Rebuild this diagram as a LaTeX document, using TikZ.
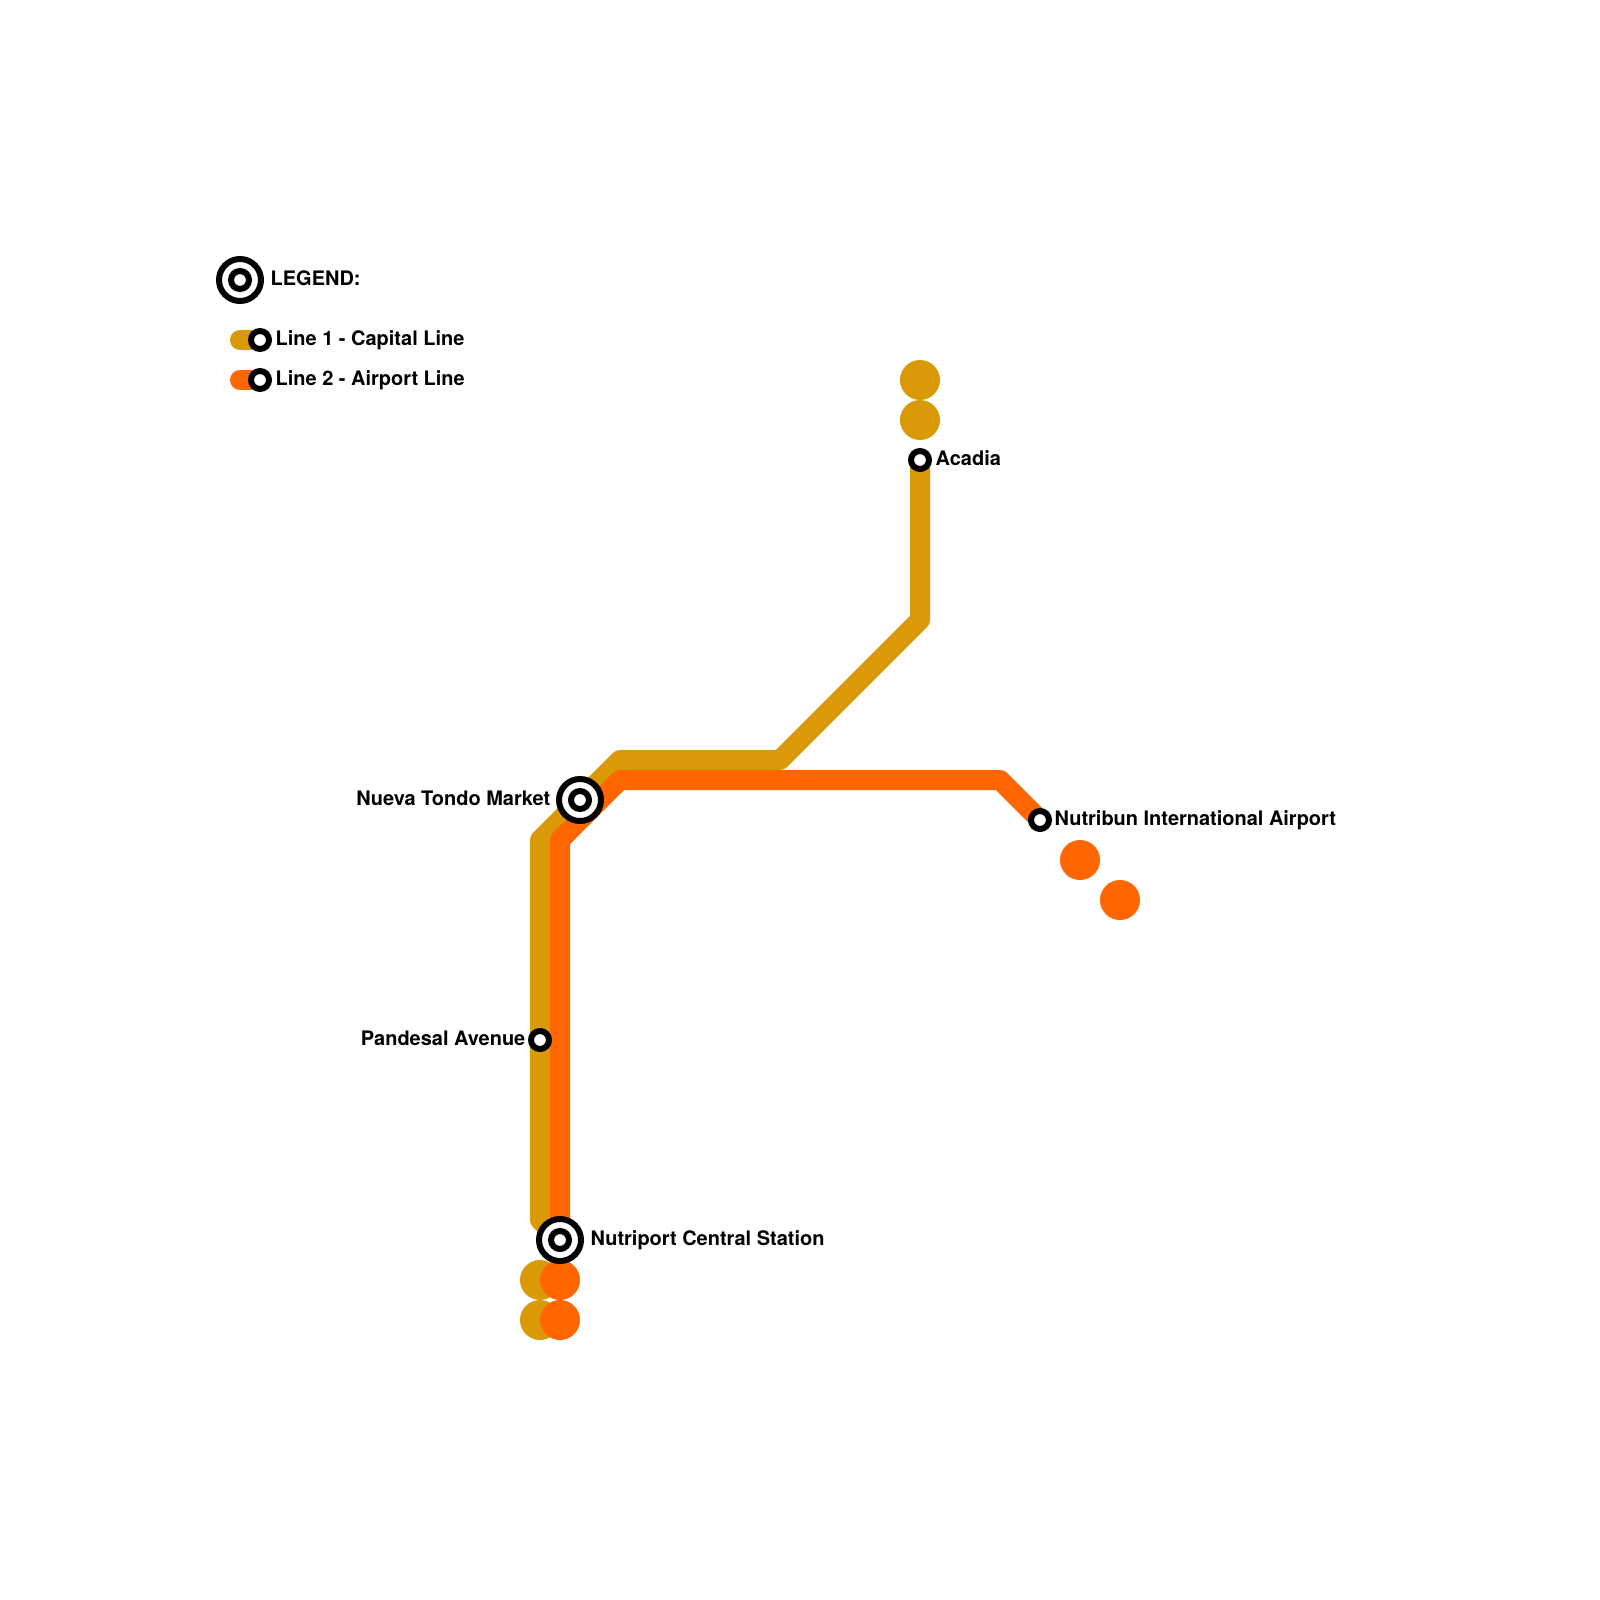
\documentclass[tikz,border=0pt]{standalone}
\usepackage{fontspec}
\setmainfont{TeX Gyre Heros}
\usetikzlibrary{positioning,backgrounds}
\definecolor{capital}{HTML}{DA9A08}
\definecolor{airport}{HTML}{FF6600}
\tikzset{
  stn/.style    = {draw=black, fill=white, circle, line width=1.7pt, inner sep=0pt, minimum size=18*0.01cm},
  hub/.style    = {draw=black, fill=white, circle, line width=1.7pt, inner sep=0pt, minimum size=42*0.01cm},
  hubdot/.style = {draw=black, fill=white, circle, line width=1.7pt, inner sep=0pt, minimum size=18*0.01cm},
  spot/.style   = {circle, inner sep=0pt, minimum size=40*0.01cm},
  route/.style  = {line width=5.69pt, line join=round, line cap=round},
  lbl/.style    = {font=\fontsize{5.68pt}{6.7pt}\selectfont\bfseries, inner sep=0pt},
}

\begin{document}
\begin{tikzpicture}[x=0.01cm, y=-0.01cm]
\useasboundingbox (0,0) rectangle (1600,1600);

% --- legend ---
\node[hub] (legendhub) at (240,280) {};
\node[hubdot] at (legendhub.center) {};
\node[stn] (keyone) at (260,340) {};
\node[stn] (keytwo) at (260,380) {};
\coordinate (keyonestart) at (240,340);
\coordinate (keytwostart) at (240,380);

% --- stations ---
\node[stn] (acadia) at (920,460) {};
\node[stn] (pandesal) at (540,1040) {};
\node[stn] (airportstn) at (1040,820) {};
\node[hub] (tondo) at (580,800) {};
\node[hubdot] at (tondo.center) {};
\node[hub] (central) at (560,1240) {};
\node[hubdot] at (central.center) {};

% --- bends ---
\coordinate (a1) at (920,620);
\coordinate (a2) at (780,760);
\coordinate (a3) at (620,760);
\coordinate (a4) at (540,840);
\coordinate (a5) at (540,1220);
\coordinate (b1) at (560,840);
\coordinate (b2) at (620,780);
\coordinate (b3) at (1000,780);

% --- labels ---
\node[lbl, anchor=base west] at (270,285.5) {LEGEND:};
\node[lbl, anchor=base west] at (275,345) {Line 1 - Capital Line};
\node[lbl, anchor=base west] at (275,385) {Line 2 - Airport Line};
\node[lbl, anchor=base west] at (935,465) {Acadia};
\node[lbl, anchor=base west] at (1054,825) {Nutribun International Airport};
\node[lbl, anchor=base west] at (590,1245) {Nutriport Central Station};
\node[lbl, anchor=base east] at (551,805) {Nueva Tondo Market};
\node[lbl, anchor=base east] at (526,1045) {Pandesal Avenue};

\begin{scope}[on background layer]
  \node[spot, fill=capital] (capnorthb) at (920,380) {};
  \node[spot, fill=capital] (capnortha) at (920,420) {};
  \node[spot, fill=capital] (capsoutha) at (540,1280) {};
  \node[spot, fill=capital] (capsouthb) at (540,1320) {};
  \draw[route, capital] (keyonestart) -- (keyone.center);
  \draw[route, capital] (acadia.center) -- (a1) -- (a2) -- (a3) -- (a4) -- (a5) -- (central.center);
  \node[spot, fill=airport] (airsoutha) at (560,1280) {};
  \node[spot, fill=airport] (airsouthb) at (560,1320) {};
  \node[spot, fill=airport] (aireasta) at (1080,860) {};
  \node[spot, fill=airport] (aireastb) at (1120,900) {};
  \draw[route, airport] (keytwostart) -- (keytwo.center);
  \draw[route, airport] (central.center) -- (b1) -- (b2) -- (b3) -- (airportstn.center);
\end{scope}
\end{tikzpicture}
\end{document}
